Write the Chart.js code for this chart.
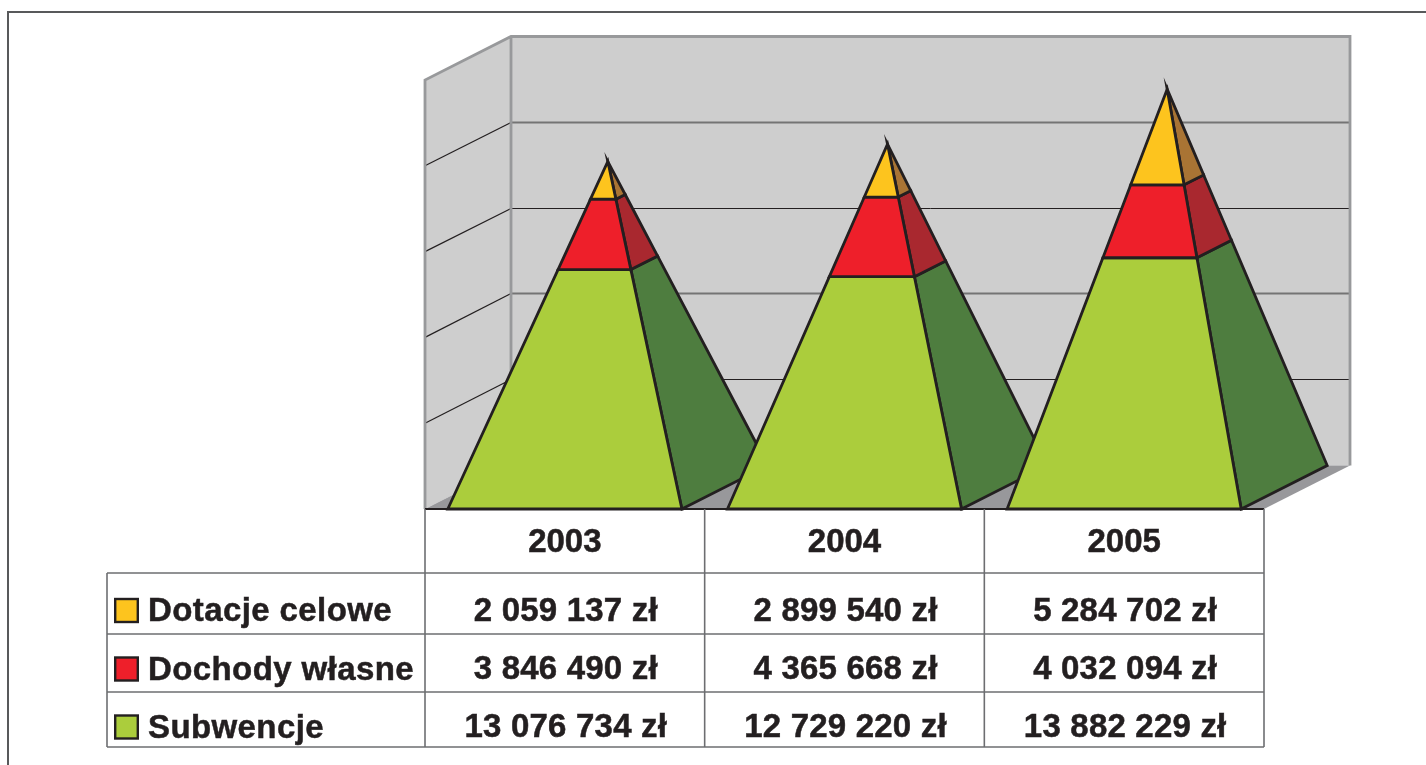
<!DOCTYPE html>
<html>
<head>
<meta charset="utf-8">
<style>
  html, body { margin: 0; padding: 0; background: #fff; }
  #wrap { width: 1426px; height: 765px; position: relative; }
</style>
<script src="https://cdn.jsdelivr.net/npm/chart.js@4"></script>
</head>
<body>
<div id="wrap"><canvas id="budgetChart"></canvas></div>
<script>
const years = ['2003', '2004', '2005'];
const subwencje = [13076734, 12729220, 13882229];
const dochody = [3846490, 4365668, 4032094];
const dotacje = [2059137, 2899540, 5284702];
const yTicksMax = 25000000;
const yTickStep = 5000000;

// depth of the fake 3d box
const DX = 86;
const DY = -43.5;
const INK = '#231f20';
const WALL = '#cecece';
const WALL_EDGE = '#98999b';
const FLOOR = '#98989b';
const TABLE_LINE = '#6d6e71';

const poly = (ctx, pts) => {
  ctx.beginPath();
  pts.forEach((p, i) => (i ? ctx.lineTo(p[0], p[1]) : ctx.moveTo(p[0], p[1])));
  ctx.closePath();
};

const line = (ctx, x1, y1, x2, y2, color, width) => {
  ctx.strokeStyle = color;
  ctx.lineWidth = width;
  ctx.beginPath();
  ctx.moveTo(x1, y1);
  ctx.lineTo(x2, y2);
  ctx.stroke();
};

const lerp = (a, b, t) => [a[0] + (b[0] - a[0]) * t, a[1] + (b[1] - a[1]) * t];

const drawBox = (chart) => {
  const { ctx, chartArea: a, scales: { y } } = chart;
  const bx = a.left + DX;
  const rx = a.right + DX;
  const ty = a.top + DY;
  const by = a.bottom + DY;

  ctx.fillStyle = WALL;
  poly(ctx, [[a.left, a.top], [bx, ty], [bx, by], [a.left, a.bottom]]);
  ctx.fill();
  ctx.fillRect(bx, ty, rx - bx, by - ty);

  ctx.fillStyle = FLOOR;
  poly(ctx, [[a.left, a.bottom], [bx, by], [rx, by], [a.right, a.bottom]]);
  ctx.fill();

  y.ticks.forEach((tick) => {
    if (tick.value === 0 || tick.value === yTicksMax) return;
    const py = y.getPixelForValue(tick.value);
    // the scan renders every other back line heavier and greyer
    const heavy = tick.value % (2 * yTickStep) === 0;
    // snap to a pixel row so the thin lines stay dark
    const backY = Math.floor(py + DY) + 0.5;
    line(ctx, a.left, py, bx, backY, INK, 1.2);
    line(ctx, bx, backY, rx, backY, heavy ? '#747474' : INK, heavy ? 2 : 1);
  });

  ctx.lineJoin = 'miter';
  ctx.strokeStyle = WALL_EDGE;
  ctx.lineWidth = 2.8;
  ctx.beginPath();
  ctx.moveTo(a.left, a.bottom);
  ctx.lineTo(a.left, a.top);
  ctx.lineTo(bx, ty);
  ctx.lineTo(rx, ty);
  ctx.lineTo(rx, by);
  ctx.moveTo(bx, ty);
  ctx.lineTo(bx, by);
  ctx.stroke();
};

const drawPyramids = (chart) => {
  const { ctx, chartArea: a } = chart;
  const metas = chart.data.datasets.map((_, k) => chart.getDatasetMeta(k));
  years.forEach((_, i) => {
    const bars = metas.map((m) => m.data[i]);
    const top = bars[bars.length - 1].y;
    const first = bars[0];
    const left = first.x - first.width / 2;
    const right = first.x + first.width / 2;
    const apex = [first.x + DX / 2, top + DY / 2];
    const fl = [left, a.bottom];
    const fr = [right, a.bottom];
    const br = [right + DX, a.bottom + DY];
    const height = a.bottom - top;

    bars.forEach((bar, k) => {
      const ds = chart.data.datasets[k];
      const t0 = (a.bottom - bar.base) / height;
      const t1 = (a.bottom - bar.y) / height;
      ctx.lineJoin = 'miter';
      ctx.miterLimit = 10;
      ctx.strokeStyle = INK;
      ctx.lineWidth = 2.8;

      poly(ctx, [lerp(fr, apex, t0), lerp(br, apex, t0), lerp(br, apex, t1), lerp(fr, apex, t1)]);
      ctx.fillStyle = ds.sideColor;
      ctx.fill();
      ctx.stroke();

      poly(ctx, [lerp(fl, apex, t0), lerp(fr, apex, t0), lerp(fr, apex, t1), lerp(fl, apex, t1)]);
      ctx.fillStyle = ds.backgroundColor;
      ctx.fill();
      ctx.stroke();
    });
  });
};

const money = (v) => String(v).replace(/\B(?=(\d{3})+$)/g, ' ') + ' zł';

const boldText = (ctx, text, tx, ty) => {
  ctx.fillText(text, tx, ty);
  ctx.strokeText(text, tx, ty);
};

const drawTable = (chart) => {
  const { ctx, chartArea: a, scales: { x } } = chart;
  const rowLines = [573, 634, 692, 747];
  const valueBaselines = [620.5, 679, 737];
  const labelBaselines = [621, 680, 738];
  const tableLeft = 107;
  const rows = chart.data.datasets.slice().reverse();

  line(ctx, a.left, a.bottom, a.right, a.bottom, INK, 2.2);
  // columns
  [0, 1, 2, 3].forEach((n) => {
    const cx = a.left + (a.right - a.left) * n / 3;
    line(ctx, cx, a.bottom, cx, rowLines[3], TABLE_LINE, 1.6);
  });
  line(ctx, tableLeft, rowLines[0], tableLeft, rowLines[3], TABLE_LINE, 1.6);
  rowLines.forEach((ry) => line(ctx, tableLeft, ry, a.right, ry, TABLE_LINE, 1.6));

  ctx.textBaseline = 'alphabetic';
  ctx.font = 'bold 33px "Liberation Sans", Arial, sans-serif';
  rows.forEach((ds, r) => {
    const vy = valueBaselines[r];
    ctx.fillStyle = ds.backgroundColor;
    ctx.fillRect(115.2, vy - 21.5, 22.6, 23);
    ctx.strokeStyle = INK;
    ctx.lineWidth = 2.4;
    ctx.strokeRect(115.2, vy - 21.5, 22.6, 23);

    ctx.fillStyle = INK;
    ctx.strokeStyle = INK;
    ctx.lineWidth = 0.5;
    ctx.textAlign = 'left';
    ctx.letterSpacing = '0.4px';
    boldText(ctx, ds.label, 148, labelBaselines[r]);
    ctx.textAlign = 'center';
    ctx.letterSpacing = '0.2px';
    ds.data.forEach((v, i) => boldText(ctx, money(v), x.getPixelForValue(i) + 1, vy));
    ctx.letterSpacing = '0px';
  });
};

const framePlugin = {
  id: 'frame',
  beforeDraw(chart) {
    const { ctx } = chart;
    ctx.save();
    ctx.strokeStyle = '#58595b';
    ctx.lineWidth = 2;
    ctx.beginPath();
    ctx.moveTo(8, 765);
    ctx.lineTo(8, 12);
    ctx.lineTo(1426, 12);
    ctx.stroke();
    ctx.restore();
  }
};

const pyramidPlugin = {
  id: 'pyramids',
  beforeDatasetsDraw(chart) {
    const { ctx } = chart;
    ctx.save();
    drawBox(chart);
    drawPyramids(chart);
    drawTable(chart);
    ctx.restore();
    return false;
  }
};

new Chart(document.getElementById('budgetChart'), {
  type: 'bar',
  data: {
    labels: years,
    datasets: [
      { label: 'Subwencje', data: subwencje, backgroundColor: '#abcd3c', sideColor: '#4e7d3f' },
      { label: 'Dochody własne', data: dochody, backgroundColor: '#ee1f2a', sideColor: '#a9282f' },
      { label: 'Dotacje celowe', data: dotacje, backgroundColor: '#fdc41e', sideColor: '#a97434' }
    ]
  },
  plugins: [framePlugin, pyramidPlugin],
  options: {
    responsive: true,
    maintainAspectRatio: false,
    animation: false,
    barPercentage: 0.837,
    categoryPercentage: 1,
    layout: { padding: { left: 425, right: 162, top: 80, bottom: 0 } },
    plugins: { legend: { display: false }, tooltip: { enabled: false } },
    scales: {
      x: {
        stacked: true,
        afterFit: (scale) => { scale.height = 256; },
        grid: { display: false },
        border: { display: false },
        ticks: {
          padding: 6,
          color: INK,
          maxRotation: 0,
          textStrokeColor: INK,
          textStrokeWidth: 0.5,
          font: { family: '"Liberation Sans", Arial, sans-serif', size: 33, weight: 'bold' }
        }
      },
      y: {
        stacked: true,
        display: false,
        min: 0,
        max: yTicksMax,
        ticks: { stepSize: yTickStep }
      }
    }
  }
});
</script>
</body>
</html>
